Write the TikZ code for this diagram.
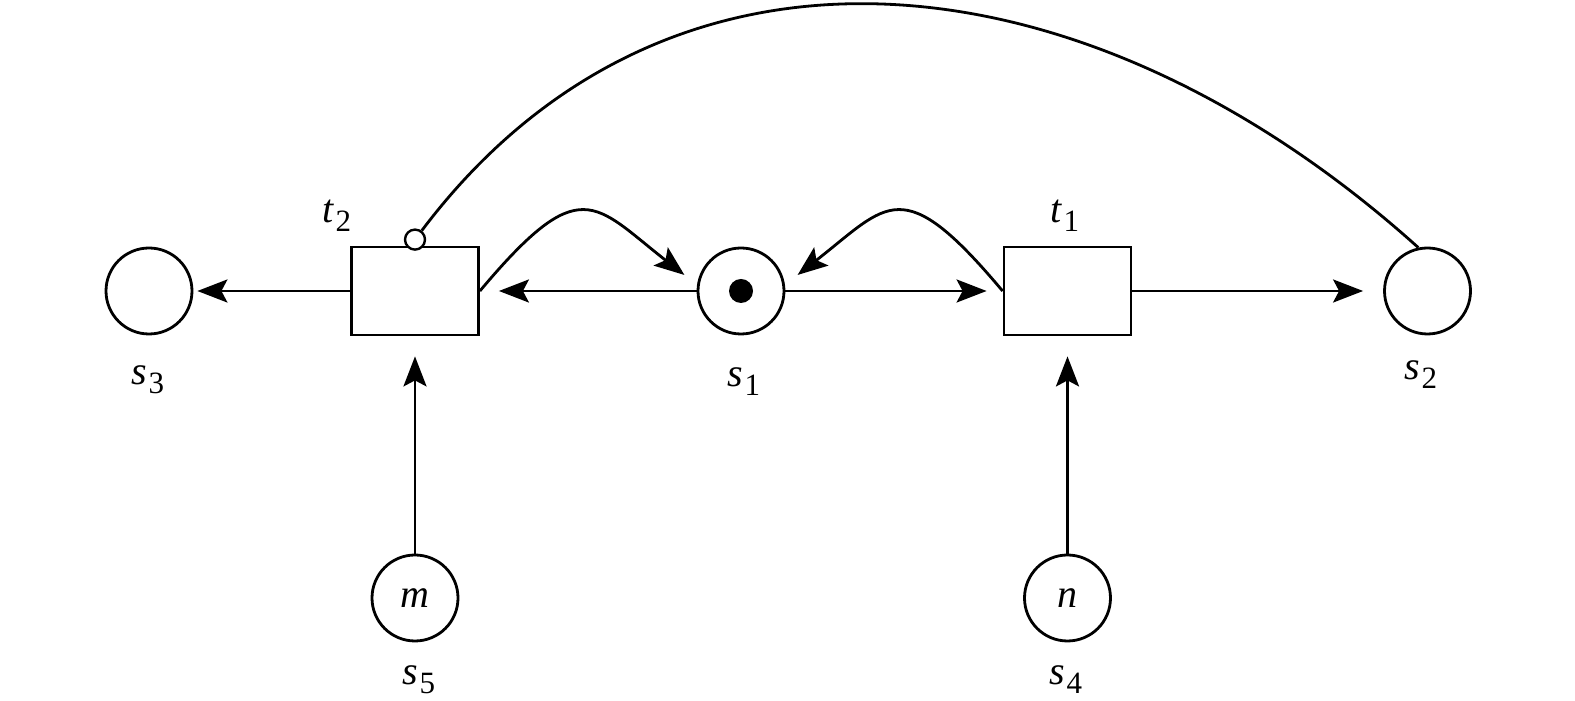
\documentclass[tikz,border=0pt]{standalone}
\usepackage{fontspec}
\setmainfont{Liberation Serif}
\usetikzlibrary{arrows.meta,positioning}
\newcommand{\plab}[2]{\textit{#1}\kern0.5pt\raisebox{-4.5pt}{\fontsize{15.5}{15.5}\selectfont #2}}
\tikzset{
  % ---- places and transitions ---------------------------------------------
  place/.style={circle, draw, line width=1.4pt, minimum size=43pt, inner sep=0pt,
                font=\itshape\fontsize{20}{20}\selectfont},
  trans/.style={rectangle, draw, line width=1.4pt, minimum width=63.5pt,
                minimum height=44pt, inner sep=0pt},
  tok/.style={circle, fill, minimum size=12pt, inner sep=0pt},
  inhib/.style={circle, draw, fill=white, line width=1.2pt, minimum size=10pt, inner sep=0pt},
  % ---- labels --------------------------------------------------------------
  lab/.style={font=\fontsize{20}{20}\selectfont, anchor=base, inner sep=0pt},
  % ---- arcs ----------------------------------------------------------------
  ar/.style={-{Stealth[length=15pt,width=11.5pt,inset=3pt]}, line width=1.4pt},
  ln/.style={line width=1.4pt},
}
\begin{document}
\begin{tikzpicture}[x=0.5pt,y=0.5pt]
\useasboundingbox (0,0) rectangle (1575,701);

% places and transitions
\node[place] (s3) at (149,410) {};
\node[trans] (t2) at (415,410) {};
\node[place] (s1) at (741,410) {};
\node[tok]   (tok) at (s1) {};
\node[trans] (t1) at (1067.5,410) {};
\node[place] (s2) at (1427.5,410) {};
\node[place] (s5) at (415,103) {m};
\node[place] (s4) at (1067.5,103) {n};
\node[inhib] (inh) at ([yshift=3pt]t2.north) {};

% labels
\node[lab] (ls3) at (148,316) {\plab{s}{3}};
\node[lab] (ls1) at (744,314) {\plab{s}{1}};
\node[lab] (ls2) at (1421,321) {\plab{s}{2}};
\node[lab] (ls5) at (419,16)  {\plab{s}{5}};
\node[lab] (ls4) at (1066,16) {\plab{s}{4}};
\node[lab] (lt2) at (337,478) {\plab{t}{2}};
\node[lab] (lt1) at (1065,478) {\plab{t}{1}};

% arcs
\draw[ar, shorten >=2pt]   (t2) -- (s3);
\draw[ar, shorten >=9.5pt] (s1) -- (t2);
\draw[ar, shorten >=8pt]   (s1) -- (t1);
\draw[ar, shorten >=10pt]  (t1) -- (s2);
\draw[ar, shorten >=10pt]  (s5) -- (t2);
\draw[ar, shorten >=10pt]  (s4) -- (t1);
\draw[ar, shorten >=8pt] (t2.east) .. controls +(50:157) and +(142:131) .. (s1.172);
\draw[ar, shorten >=8pt] (t1.west) .. controls +(130:157) and +(38:131) .. (s1.8);
\draw[ln] (inh.53) .. controls +(53:412) and +(138:444) .. (s2.102);

\end{tikzpicture}
\end{document}
